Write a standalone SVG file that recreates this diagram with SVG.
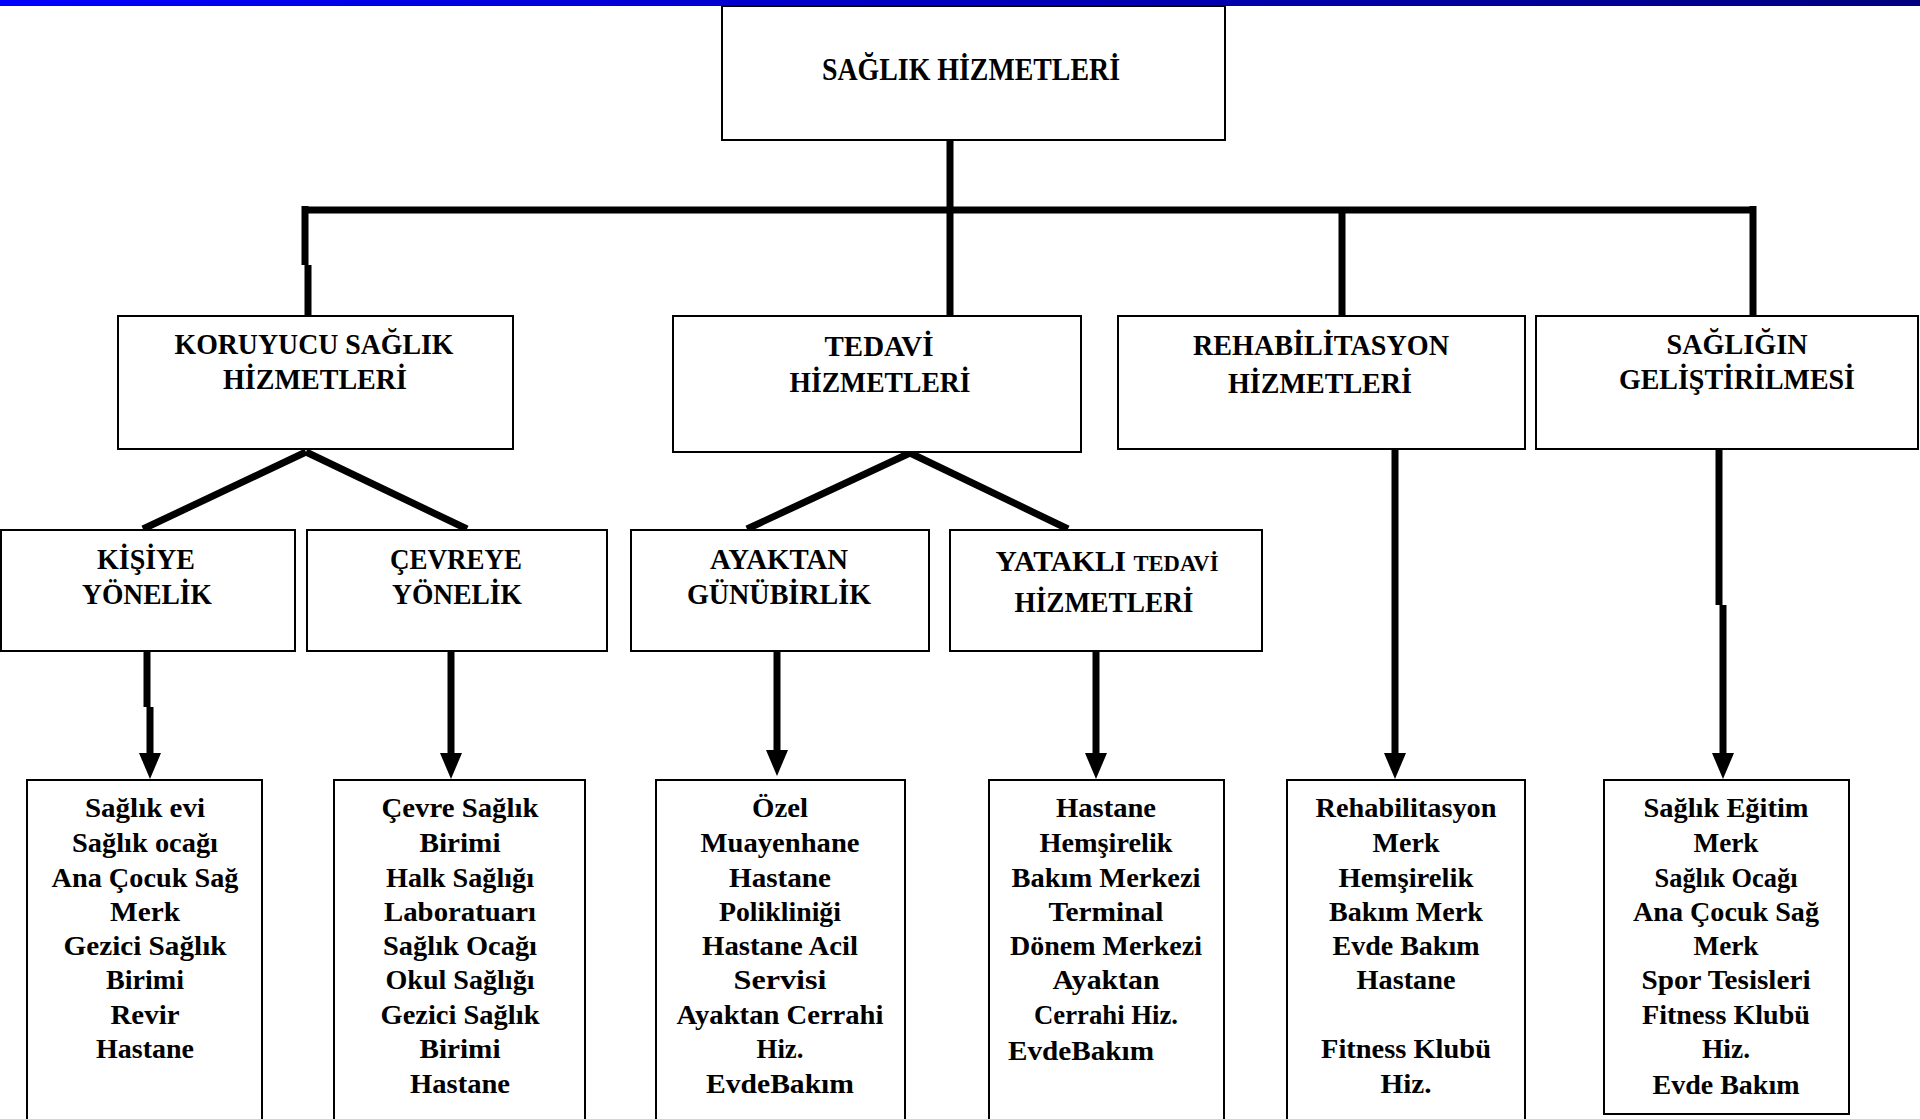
<svg xmlns="http://www.w3.org/2000/svg" width="1920" height="1119" viewBox="0 0 1920 1119">
<defs>
<linearGradient id="bar" x1="0" y1="0" x2="1" y2="0">
<stop offset="0" stop-color="#0000ff"/>
<stop offset="1" stop-color="#000080"/>
</linearGradient>
<marker id="ah" viewBox="0 0 26 22" refX="13" refY="11" markerWidth="26" markerHeight="22" markerUnits="userSpaceOnUse" orient="auto">
<path d="M0,0 L26,11 L0,22 Z" fill="#000"/>
</marker>
<style>
.box{fill:#fff;stroke:#000;stroke-width:2}
.t{font-family:"Liberation Serif","Times New Roman",serif;font-weight:bold;fill:#000;text-anchor:middle}
.h{font-size:30px}
.r{font-size:31px}
.s{font-size:28px}
.c{fill:none;stroke:#000;stroke-width:7;stroke-linecap:butt}
.a{fill:none;stroke:#000;stroke-width:7;marker-end:url(#ah)}
</style>
</defs>
<rect x="0" y="0" width="1920" height="1119" fill="#fff"/>
<rect x="0" y="0" width="1920" height="6" fill="url(#bar)"/>

<g id="connectors">
<path class="c" d="M950,138 V316"/>
<path class="c" d="M302,210 H1756"/>
<path class="c" d="M305,206 V265 M308,265 V316"/>
<path class="c" d="M1342,210 V316"/>
<path class="c" d="M1753,206 V316"/>
<path class="c" d="M306,452 L143,529 M306,452 L467,529"/>
<path class="c" d="M910,453 L747,529 M910,453 L1068,529"/>
<path class="c" d="M147,652 V707"/>
<path class="a" d="M150,707 V766"/>
<path class="a" d="M451,652 V766"/>
<path class="a" d="M777,652 V763"/>
<path class="a" d="M1096,652 V766"/>
<path class="a" d="M1395,449 V766"/>
<path class="c" d="M1719,449 V605"/>
<path class="a" d="M1723,605 V766"/>
</g>

<g id="root">
<rect class="box" x="722" y="6" width="503" height="134"/>
<text class="t r" x="971" y="80" textLength="298" lengthAdjust="spacingAndGlyphs">SAĞLIK HİZMETLERİ</text>
</g>

<g id="koruyucu">
<rect class="box" x="118" y="316" width="395" height="133"/>
<text class="t h" x="314" y="354" textLength="279" lengthAdjust="spacingAndGlyphs">KORUYUCU SAĞLIK</text>
<text class="t h" x="315" y="389" textLength="184" lengthAdjust="spacingAndGlyphs">HİZMETLERİ</text>
</g>

<g id="tedavi">
<rect class="box" x="673" y="316" width="408" height="136"/>
<text class="t h" x="879" y="356" textLength="109" lengthAdjust="spacingAndGlyphs">TEDAVİ</text>
<text class="t h" x="880" y="392" textLength="181" lengthAdjust="spacingAndGlyphs">HİZMETLERİ</text>
</g>

<g id="rehabilitasyon">
<rect class="box" x="1118" y="316" width="407" height="133"/>
<text class="t h" x="1321" y="355" textLength="256" lengthAdjust="spacingAndGlyphs">REHABİLİTASYON</text>
<text class="t h" x="1320" y="393" textLength="184" lengthAdjust="spacingAndGlyphs">HİZMETLERİ</text>
</g>

<g id="gelistirilmesi">
<rect class="box" x="1536" y="316" width="382" height="133"/>
<text class="t h" x="1737" y="354" textLength="141" lengthAdjust="spacingAndGlyphs">SAĞLIĞIN</text>
<text class="t h" x="1737" y="389" textLength="236" lengthAdjust="spacingAndGlyphs">GELİŞTİRİLMESİ</text>
</g>

<g id="kisiye">
<rect class="box" x="1" y="530" width="294" height="121"/>
<text class="t h" x="146" y="569" textLength="98" lengthAdjust="spacingAndGlyphs">KİŞİYE</text>
<text class="t h" x="147" y="604" textLength="130" lengthAdjust="spacingAndGlyphs">YÖNELİK</text>
</g>

<g id="cevreye">
<rect class="box" x="307" y="530" width="300" height="121"/>
<text class="t h" x="456" y="569" textLength="132" lengthAdjust="spacingAndGlyphs">ÇEVREYE</text>
<text class="t h" x="457" y="604" textLength="130" lengthAdjust="spacingAndGlyphs">YÖNELİK</text>
</g>

<g id="ayaktan">
<rect class="box" x="631" y="530" width="298" height="121"/>
<text class="t h" x="779" y="569" textLength="138" lengthAdjust="spacingAndGlyphs">AYAKTAN</text>
<text class="t h" x="779" y="604" textLength="184" lengthAdjust="spacingAndGlyphs">GÜNÜBİRLİK</text>
</g>

<g id="yatakli">
<rect class="box" x="950" y="530" width="312" height="121"/>
<text class="t h" x="1107" y="571" textLength="223" lengthAdjust="spacingAndGlyphs">YATAKLI <tspan font-size="23">TEDAVİ</tspan></text>
<text class="t h" x="1104" y="612" textLength="179" lengthAdjust="spacingAndGlyphs">HİZMETLERİ</text>
</g>

<g id="kisiye-list">
<rect class="box" x="27" y="780" width="235" height="340"/>
<text class="t s" x="145" y="817" textLength="120" lengthAdjust="spacingAndGlyphs">Sağlık evi</text>
<text class="t s" x="145" y="852" textLength="146" lengthAdjust="spacingAndGlyphs">Sağlık ocağı</text>
<text class="t s" x="145" y="887" textLength="187" lengthAdjust="spacingAndGlyphs">Ana Çocuk Sağ</text>
<text class="t s" x="145" y="921" textLength="70" lengthAdjust="spacingAndGlyphs">Merk</text>
<text class="t s" x="145" y="955" textLength="163" lengthAdjust="spacingAndGlyphs">Gezici Sağlık</text>
<text class="t s" x="145" y="989" textLength="78" lengthAdjust="spacingAndGlyphs">Birimi</text>
<text class="t s" x="145" y="1024" textLength="69" lengthAdjust="spacingAndGlyphs">Revir</text>
<text class="t s" x="145" y="1058" textLength="98" lengthAdjust="spacingAndGlyphs">Hastane</text>
</g>

<g id="cevreye-list">
<rect class="box" x="334" y="780" width="251" height="340"/>
<text class="t s" x="460" y="817" textLength="157" lengthAdjust="spacingAndGlyphs">Çevre Sağlık</text>
<text class="t s" x="460" y="852" textLength="81" lengthAdjust="spacingAndGlyphs">Birimi</text>
<text class="t s" x="460" y="887" textLength="148" lengthAdjust="spacingAndGlyphs">Halk Sağlığı</text>
<text class="t s" x="460" y="921" textLength="152" lengthAdjust="spacingAndGlyphs">Laboratuarı</text>
<text class="t s" x="460" y="955" textLength="154" lengthAdjust="spacingAndGlyphs">Sağlık Ocağı</text>
<text class="t s" x="460" y="989" textLength="149" lengthAdjust="spacingAndGlyphs">Okul Sağlığı</text>
<text class="t s" x="460" y="1024" textLength="159" lengthAdjust="spacingAndGlyphs">Gezici Sağlık</text>
<text class="t s" x="460" y="1058" textLength="81" lengthAdjust="spacingAndGlyphs">Birimi</text>
<text class="t s" x="460" y="1093" textLength="100" lengthAdjust="spacingAndGlyphs">Hastane</text>
</g>

<g id="ayaktan-list">
<rect class="box" x="656" y="780" width="249" height="340"/>
<text class="t s" x="780" y="817" textLength="56" lengthAdjust="spacingAndGlyphs">Özel</text>
<text class="t s" x="780" y="852" textLength="159" lengthAdjust="spacingAndGlyphs">Muayenhane</text>
<text class="t s" x="780" y="887" textLength="102" lengthAdjust="spacingAndGlyphs">Hastane</text>
<text class="t s" x="780" y="921" textLength="122" lengthAdjust="spacingAndGlyphs">Polikliniği</text>
<text class="t s" x="780" y="955" textLength="156" lengthAdjust="spacingAndGlyphs">Hastane Acil</text>
<text class="t s" x="780" y="989" textLength="93" lengthAdjust="spacingAndGlyphs">Servisi</text>
<text class="t s" x="780" y="1024" textLength="207" lengthAdjust="spacingAndGlyphs">Ayaktan Cerrahi</text>
<text class="t s" x="780" y="1058" textLength="47" lengthAdjust="spacingAndGlyphs">Hiz.</text>
<text class="t s" x="780" y="1093" textLength="148" lengthAdjust="spacingAndGlyphs">EvdeBakım</text>
</g>

<g id="yatakli-list">
<rect class="box" x="989" y="780" width="235" height="340"/>
<text class="t s" x="1106" y="817" textLength="100" lengthAdjust="spacingAndGlyphs">Hastane</text>
<text class="t s" x="1106" y="852" textLength="133" lengthAdjust="spacingAndGlyphs">Hemşirelik</text>
<text class="t s" x="1106" y="887" textLength="189" lengthAdjust="spacingAndGlyphs">Bakım Merkezi</text>
<text class="t s" x="1106" y="921" textLength="115" lengthAdjust="spacingAndGlyphs">Terminal</text>
<text class="t s" x="1106" y="955" textLength="192" lengthAdjust="spacingAndGlyphs">Dönem Merkezi</text>
<text class="t s" x="1106" y="989" textLength="107" lengthAdjust="spacingAndGlyphs">Ayaktan</text>
<text class="t s" x="1106" y="1024" textLength="144" lengthAdjust="spacingAndGlyphs">Cerrahi Hiz.</text>
<text class="t s" x="1081" y="1060" textLength="146" lengthAdjust="spacingAndGlyphs">EvdeBakım</text>
</g>

<g id="rehabilitasyon-list">
<rect class="box" x="1287" y="780" width="238" height="340"/>
<text class="t s" x="1406" y="817" textLength="181" lengthAdjust="spacingAndGlyphs">Rehabilitasyon</text>
<text class="t s" x="1406" y="852" textLength="67" lengthAdjust="spacingAndGlyphs">Merk</text>
<text class="t s" x="1406" y="887" textLength="135" lengthAdjust="spacingAndGlyphs">Hemşirelik</text>
<text class="t s" x="1406" y="921" textLength="154" lengthAdjust="spacingAndGlyphs">Bakım Merk</text>
<text class="t s" x="1406" y="955" textLength="147" lengthAdjust="spacingAndGlyphs">Evde Bakım</text>
<text class="t s" x="1406" y="989" textLength="99" lengthAdjust="spacingAndGlyphs">Hastane</text>
<text class="t s" x="1406" y="1058" textLength="170" lengthAdjust="spacingAndGlyphs">Fitness Klubü</text>
<text class="t s" x="1406" y="1093" textLength="51" lengthAdjust="spacingAndGlyphs">Hiz.</text>
</g>

<g id="gelistirilmesi-list">
<rect class="box" x="1604" y="780" width="245" height="334"/>
<text class="t s" x="1726" y="817" textLength="165" lengthAdjust="spacingAndGlyphs">Sağlık Eğitim</text>
<text class="t s" x="1726" y="852" textLength="65" lengthAdjust="spacingAndGlyphs">Merk</text>
<text class="t s" x="1726" y="887" textLength="143" lengthAdjust="spacingAndGlyphs">Sağlık Ocağı</text>
<text class="t s" x="1726" y="921" textLength="186" lengthAdjust="spacingAndGlyphs">Ana Çocuk Sağ</text>
<text class="t s" x="1726" y="955" textLength="65" lengthAdjust="spacingAndGlyphs">Merk</text>
<text class="t s" x="1726" y="989" textLength="169" lengthAdjust="spacingAndGlyphs">Spor Tesisleri</text>
<text class="t s" x="1726" y="1024" textLength="168" lengthAdjust="spacingAndGlyphs">Fitness Klubü</text>
<text class="t s" x="1726" y="1058" textLength="48" lengthAdjust="spacingAndGlyphs">Hiz.</text>
<text class="t s" x="1726" y="1094" textLength="147" lengthAdjust="spacingAndGlyphs">Evde Bakım</text>
</g>
</svg>
